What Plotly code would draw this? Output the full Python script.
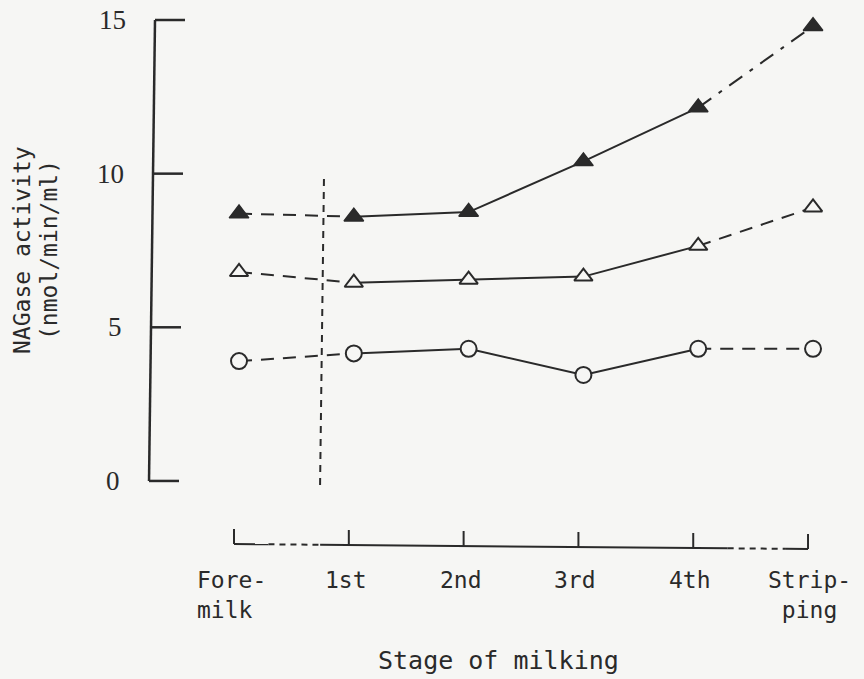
import plotly.graph_objects as go

# Stage of milking (categories) and NAGase activity (nmol/min/ml)
stages = ["Fore-<br>milk", "1st", "2nd", "3rd", "4th", "Strip-<br>ping"]
filled_triangle = [8.7, 8.6, 8.75, 10.4, 12.15, 14.8]
open_triangle = [6.8, 6.45, 6.55, 6.65, 7.65, 8.9]
open_circle = [3.9, 4.15, 4.3, 3.45, 4.3, 4.3]
y_ticks = [0, 5, 10, 15]
x_title = "Stage of milking"
y_title = ["NAGase activity", "(nmol/min/ml)"]

W, H = 864, 679
BG = "#f6f6f4"
INK = "#2a2a2a"

# axis ranges: category index on x, activity on y
X0, X1 = -2.082, 5.444
Y0, Y1 = -6.445, 15.651
ux = (X1 - X0) / W   # data units per pixel (x)
uy = (Y1 - Y0) / H   # data units per pixel (y)

xs = list(range(len(stages)))
fig = go.Figure()


def seg(x, y, dash, name):
    fig.add_trace(go.Scatter(x=x, y=y, mode="lines", showlegend=False,
                             line=dict(color=INK, width=2, dash=dash),
                             hoverinfo="skip", name=name))


# connecting lines: dashed to the 1st stage, solid through 4th, dashed to stripping
for vals, tail_dash, nm in [(filled_triangle, "16px,9px,4px,9px", "filled"),
                             (open_triangle, "13px,9px", "open_tri"),
                             (open_circle, "13px,9px", "circle")]:
    seg(xs[0:2], vals[0:2], "13px,9px", nm)
    seg(xs[1:5], vals[1:5], "solid", nm)
    seg(xs[4:6], vals[4:6], tail_dash, nm)

fig.add_trace(go.Scatter(x=xs, y=filled_triangle, mode="markers", showlegend=False,
                         marker=dict(symbol="triangle-up", size=17, color=INK,
                                     line=dict(color=INK, width=1.5))))
fig.add_trace(go.Scatter(x=xs, y=open_triangle, mode="markers", showlegend=False,
                         marker=dict(symbol="triangle-up", size=16, color=BG,
                                     line=dict(color=INK, width=2))))
fig.add_trace(go.Scatter(x=xs, y=open_circle, mode="markers", showlegend=False,
                         marker=dict(symbol="circle", size=16, color=BG,
                                     line=dict(color=INK, width=2))))

shapes = []
annotations = []

# vertical y axis with inward ticks (scan is slightly rotated)
tilt = 6 * ux / 15.0          # x shift per activity unit
ax_x0 = -0.784                # axis position at y = 0
tick_len = 30 * ux


def axis_x(v):
    return ax_x0 + tilt * v


shapes.append(dict(type="line", x0=axis_x(y_ticks[0]), y0=y_ticks[0],
                   x1=axis_x(y_ticks[-1]), y1=y_ticks[-1],
                   line=dict(color=INK, width=2.5)))
for v in y_ticks:
    shapes.append(dict(type="line", x0=axis_x(v), y0=v, x1=axis_x(v) + tick_len, y1=v,
                       line=dict(color=INK, width=2.5)))
    annotations.append(dict(x=axis_x(v) - 27 * ux, y=v, text=str(v), showarrow=False,
                            xanchor="right", yanchor="middle",
                            font=dict(family="Liberation Serif", size=27, color=INK)))

# dashed reference line between fore-milk and the 1st stage
shapes.append(dict(type="line", x0=0.706, y0=-0.13, x1=0.74, y1=9.86,
                   line=dict(color=INK, width=2, dash="7px,6px")))

# bracket-style stage axis below the plot
b_left, b_right = Y1 - 544 * uy, Y1 - 549 * uy
b_dx = -5 * ux
b_tick = 15 * uy


def b_y(x):
    return b_left + (b_right - b_left) * x / 5.0


pieces = [(0.0, 0.3, "solid"), (0.3, 0.75, "6px,5px"), (0.75, 4.3, "solid"),
          (4.3, 4.8, "6px,5px"), (4.8, 5.0, "solid")]
for a, b, d in pieces:
    shapes.append(dict(type="line", x0=a + b_dx, y0=b_y(a), x1=b + b_dx, y1=b_y(b),
                       line=dict(color=INK, width=2, dash=d)))
for x in xs:
    shapes.append(dict(type="line", x0=x + b_dx, y0=b_y(x), x1=x + b_dx, y1=b_y(x) + b_tick,
                       line=dict(color=INK, width=2)))

mono = "DejaVu Sans Mono"
for x, lab in zip(xs, stages):
    annotations.append(dict(x=x - 8 * ux + (0.04 if x == 5 else 0), y=Y1 - 565 * uy,
                            text=lab, showarrow=False,
                            xanchor="center", yanchor="top",
                            align="left" if x == 0 else "center",
                            font=dict(family=mono, size=23, color=INK)))

annotations.append(dict(x=X0 + 498 * ux, y=Y1 - 660 * uy, text=x_title, showarrow=False,
                        xanchor="center", yanchor="middle",
                        font=dict(family=mono, size=25, color=INK)))
annotations.append(dict(x=X0 + 22 * ux, y=Y1 - 250 * uy, text=y_title[0], showarrow=False,
                        textangle=-90, xanchor="center", yanchor="middle",
                        font=dict(family=mono, size=23, color=INK)))
annotations.append(dict(x=X0 + 49 * ux, y=Y1 - 250 * uy, text=y_title[1], showarrow=False,
                        textangle=-90, xanchor="center", yanchor="middle",
                        font=dict(family=mono, size=23, color=INK)))

fig.update_layout(
    width=W, height=H, margin=dict(l=0, r=0, t=0, b=0),
    paper_bgcolor=BG, plot_bgcolor=BG,
    xaxis=dict(range=[X0, X1], visible=False),
    yaxis=dict(range=[Y0, Y1], visible=False),
    shapes=shapes, annotations=annotations,
)

fig.write_html("out.html")
